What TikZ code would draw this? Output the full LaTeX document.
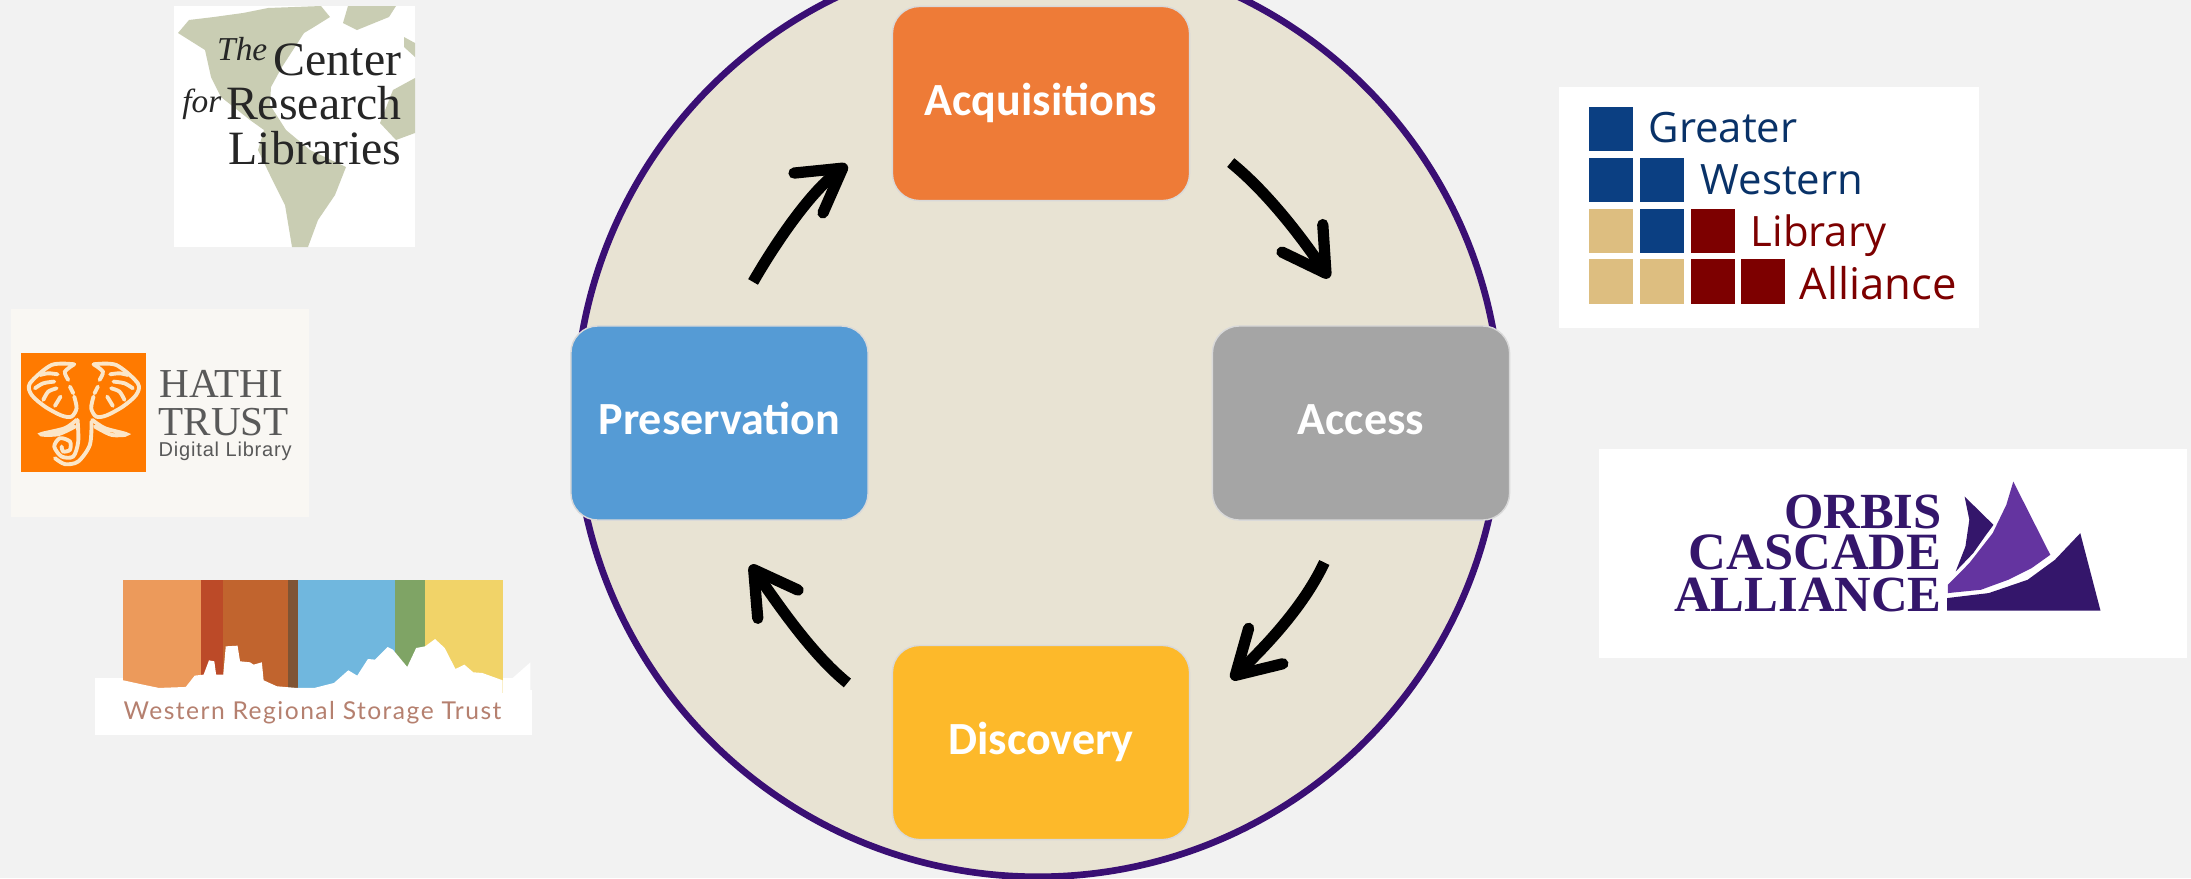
\documentclass[tikz,border=0pt]{standalone}
\usepackage{fontspec}
\usetikzlibrary{arrows.meta}
\newfontfamily\boxfont{Carlito}
\newfontfamily\serifface{Liberation Serif}
\newfontfamily\gwlaface{Open Sans}
\newfontfamily\hathiface[LetterSpace=4]{Liberation Sans}
\newfontfamily\wrstface[LetterSpace=6]{Lato}
\definecolor{pagegrey}{HTML}{F2F2F2}
\definecolor{ringfill}{HTML}{E8E3D3}
\definecolor{ringline}{HTML}{3A0F74}
\definecolor{acqcol}{HTML}{EE7B37}
\definecolor{acccol}{HTML}{A5A5A5}
\definecolor{discol}{HTML}{FDB92A}
\definecolor{precol}{HTML}{559BD5}
\definecolor{mapgreen}{HTML}{C9CDB3}
\definecolor{hathibg}{HTML}{F9F7F3}
\definecolor{hathiorange}{HTML}{FF7A00}
\definecolor{hathicream}{HTML}{FBE6C8}
\definecolor{gwlablue}{HTML}{0B3F82}
\definecolor{gwlatan}{HTML}{DDBE80}
\definecolor{gwlared}{HTML}{7D0000}
\definecolor{orbisdark}{HTML}{34166B}
\definecolor{orbismid}{HTML}{6434A0}
\begin{document}
\begin{tikzpicture}[x=0.01cm, y=-0.01cm]
    % Define styles
    \tikzset{
        cyclebox/.style={
            draw=black!15,
            line width=0.4pt,
            rounded corners=0.27cm,
            minimum width=2.97cm,
            minimum height=1.94cm,
            inner sep=0pt,
            text=white,
            text height=9.7pt,
            text depth=2.9pt,
            font=\boxfont\bfseries\fontsize{13.1}{15}\selectfont
        },
        cyclearrow/.style={
            line width=3.2pt,
            -{Straight Barb[length=12pt,width=14pt,round]}
        },
        logotext/.style={
            inner sep=0pt,
            anchor=base west
        },
        logotextr/.style={
            inner sep=0pt,
            anchor=base east
        },
        gwlasquare/.style={
            inner sep=0pt,
            minimum width=0.44cm,
            minimum height=0.44cm
        },
        tuskline/.style={
            draw=hathicream,
            line width=1.1pt,
            line cap=round
        }
    }

    % Page
    \clip (0,0) rectangle (2191,878);
    \fill[pagegrey] (0,0) rectangle (2191,878);

    % Cycle
    \node[circle, draw=ringline, fill=ringfill, line width=1.9pt, minimum size=9.25cm, inner sep=0pt] (ring) at (1038,414) {};
    \node[cyclebox, fill=acqcol] (acq) at (1041,103.5) {Acquisitions};
    \node[cyclebox, fill=acccol] (acc) at (1361,423) {Access};
    \node[cyclebox, fill=discol] (disc) at (1041,742.5) {Discovery};
    \node[cyclebox, fill=precol] (pres) at (719.5,423) {Preservation};

    % Connect
    \draw[cyclearrow, shorten <=0.52cm, shorten >=0.57cm] (acq.-10) to[out=-39, in=124] (acc.north);
    \draw[cyclearrow, shorten <=0.46cm, shorten >=0.57cm] (acc.-100) to[out=-115, in=44] (disc.9);
    \draw[cyclearrow, shorten <=0.57cm, shorten >=0.54cm] (disc.171) to[out=141, in=-55] (pres.south);
    \draw[cyclearrow, shorten <=0.50cm, shorten >=0.55cm] (pres.85) to[out=60, in=216] (acq.191);

    % Center for Research Libraries
    \fill[white] (174,6) rectangle (415,247);
    \fill[mapgreen] (178,33) -- (189,20) -- (214,17) -- (243,13) -- (268,8) -- (321,6) -- (330,17) -- (314,27) -- (304,33) -- (293,50) -- (282,67) -- (271,87) -- (270,105) -- (286,130) -- (310,150) -- (346,167) -- (335,195) -- (318,220) -- (308,247) -- (292,247) -- (285,205) -- (270,175) -- (258,150) -- (264,130) -- (250,120) -- (221,97) -- (211,77) -- (205,50) -- cycle;
    \fill[mapgreen] (348,6) -- (396,6) -- (389,17) -- (357,30) -- (343,23) -- cycle;
    \fill[mapgreen] (415,78) -- (393,90) -- (380,123) -- (396,140) -- (415,133) -- cycle;
    \fill[mapgreen] (404,37) -- (415,43) -- (415,57) -- (404,47) -- cycle;
    \node[logotextr, text=black!85, font=\serifface\fontsize{13.6}{15}\selectfont] (crlc) at (402,75) {Center};
    \node[logotextr, text=black!85, font=\serifface\itshape\fontsize{9.5}{11}\selectfont] (crlt) at (268,60) {The};
    \node[logotextr, text=black!85, font=\serifface\fontsize{13.6}{15}\selectfont] (crlr) at (402,119) {Research};
    \node[logotextr, text=black!85, font=\serifface\itshape\fontsize{9.5}{11}\selectfont] (crlf) at (222,112) {for};
    \node[logotextr, text=black!85, font=\serifface\fontsize{13.6}{15}\selectfont] (crll) at (402,164) {Libraries};

    % HathiTrust
    \fill[hathibg] (11,309) rectangle (309,517);
    \fill[hathiorange] (21,353) rectangle (146,472);
    \begin{scope}[shift={(15,345)}, x=0.00333cm, y=-0.00333cm]
        \draw[tuskline] plot[smooth] coordinates {(178,58) (110,60) (45,115) (50,150) (90,185) (140,212) (170,215) (185,190) (178,155)};
        \draw[tuskline] plot[smooth] coordinates {(236,58) (304,60) (369,115) (364,150) (324,185) (274,212) (244,215) (229,190) (236,155)};
        \draw[tuskline] plot[smooth] coordinates {(178,58) (150,80) (160,105)};
        \draw[tuskline] plot[smooth] coordinates {(236,58) (264,80) (254,105)};
        \draw[tuskline] (165,125) -- (175,145);
        \draw[tuskline] (249,125) -- (239,145);
        \draw[tuskline] plot[smooth] coordinates {(75,90) (100,85) (128,88)};
        \draw[tuskline] plot[smooth] coordinates {(60,130) (85,115) (118,110)};
        \draw[tuskline] plot[smooth] coordinates {(85,165) (100,140) (125,130)};
        \draw[tuskline] (120,183) -- (137,155);
        \draw[tuskline] plot[smooth] coordinates {(339,90) (314,85) (286,88)};
        \draw[tuskline] plot[smooth] coordinates {(354,130) (329,115) (296,110)};
        \draw[tuskline] plot[smooth] coordinates {(329,165) (314,140) (289,130)};
        \draw[tuskline] (294,183) -- (277,155);
        \draw[tuskline] plot[smooth] coordinates {(185,225) (150,250) (78,268) (130,268) (180,245)};
        \draw[tuskline] plot[smooth] coordinates {(232,225) (270,250) (335,268) (290,270) (240,245)};
        \draw[tuskline] plot[smooth] coordinates {(188,225) (190,290) (175,335) (140,335) (118,305) (135,280) (165,290) (165,315) (145,320) (140,305)};
        \draw[tuskline] plot[smooth] coordinates {(230,230) (225,300) (190,350) (150,358) (120,340)};
    \end{scope}
    \node[logotext, text=black!65, font=\serifface\fontsize{11.7}{13}\selectfont] (hathia) at (159,397) {HATHI};
    \node[logotext, text=black!65, font=\serifface\fontsize{11.7}{13}\selectfont] (hathib) at (158,435) {TRUST};
    \node[logotext, text=black!65, font=\hathiface\fontsize{5.7}{7}\selectfont] (hathic) at (158,456) {Digital Library};

    % Western Regional Storage Trust (coordinates as read at 2.8 by 3)
    \begin{scope}[shift={(0,440)}, x=0.003571cm, y=-0.003333cm]
        \fill[white] (266,715) rectangle (1485,887);
        \fill[white] (1485,750) rectangle (1490,887);
        \fill[white] (1407,722) -- (1430,720) -- (1485,668) -- (1485,760) -- (1407,760) -- cycle;
        \fill[color={rgb,255:red,236;green,154;blue,91}] (345,420) rectangle (563,760);
        \fill[color={rgb,255:red,188;green,74;blue,40}] (563,420) rectangle (623,760);
        \fill[color={rgb,255:red,193;green,100;blue,46}] (623,420) rectangle (805,760);
        \fill[color={rgb,255:red,127;green,84;blue,52}] (805,420) rectangle (833,760);
        \fill[color={rgb,255:red,112;green,183;blue,222}] (833,420) rectangle (1105,760);
        \fill[color={rgb,255:red,127;green,164;blue,101}] (1105,420) rectangle (1190,760);
        \fill[color={rgb,255:red,241;green,211;blue,104}] (1190,420) rectangle (1407,760);
        \fill[white] (345,722) -- (400,735) -- (445,745) -- (520,742) -- (545,708) -- (570,705) -- (585,662) -- (600,665) -- (605,705) -- (625,705) -- (632,620) -- (665,618) -- (672,665) -- (700,668) -- (710,675) -- (733,668) -- (738,722) -- (775,740) -- (830,745) -- (880,745) -- (935,730) -- (975,692) -- (1000,708) -- (1030,658) -- (1050,660) -- (1085,622) -- (1100,630) -- (1140,682) -- (1165,625) -- (1190,620) -- (1218,598) -- (1245,625) -- (1275,688) -- (1300,675) -- (1325,698) -- (1350,700) -- (1407,722) -- (1407,770) -- (345,770) -- cycle;
    \end{scope}
    \node[logotext, text={rgb,255:red,181;green,128;blue,111}, font=\wrstface\fontsize{7}{9}\selectfont] (wrst) at (123,719) {Western Regional Storage Trust};

    % Greater Western Library Alliance
    \fill[white] (1559,87) rectangle (1979,328);
    \foreach \x/\y/\c in {1610.5/128.7/gwlablue, 1610.5/180/gwlablue, 1661.5/180/gwlablue, 1610.5/230.7/gwlatan, 1661.5/230.7/gwlablue, 1712.5/230.7/gwlared, 1610.5/281.5/gwlatan, 1661.5/281.5/gwlatan, 1712.5/281.5/gwlared, 1763/281.5/gwlared}
        \node[gwlasquare, fill=\c] at (\x,\y) {};
    \node[logotext, text=gwlablue!80!black, font=\gwlaface\fontsize{11.9}{14}\selectfont] (gwlaa) at (1648,142.7) {Greater};
    \node[logotext, text=gwlablue!80!black, font=\gwlaface\fontsize{11.9}{14}\selectfont] (gwlab) at (1700,194) {Western};
    \node[logotext, text=gwlared, font=\gwlaface\fontsize{11.9}{14}\selectfont] (gwlac) at (1750,246.7) {Library};
    \node[logotext, text=gwlared, font=\gwlaface\fontsize{12.4}{14}\selectfont] (gwlad) at (1799,299) {Alliance};

    % Orbis Cascade Alliance
    \fill[white] (1598.7,448.7) rectangle (2187,658);
    \node[logotextr, text=orbisdark, font=\serifface\bfseries\fontsize{14.4}{16}\selectfont] (orba) at (1942.4,528) {ORBIS};
    \node[logotextr, text=orbisdark, font=\serifface\bfseries\fontsize{14.9}{16}\selectfont] (orbb) at (1942.4,569) {CASCADE};
    \node[logotextr, text=orbisdark, font=\serifface\bfseries\fontsize{14.4}{16}\selectfont] (orbc) at (1942.4,611) {ALLIANCE};
    \begin{scope}[shift={(1580,430)}, x=0.003897cm, y=-0.003333cm]
        \fill[orbisdark] (988,200) -- (1062,285) -- (1040,320) -- (1010,370) -- (965,425) -- (990,350) -- (1000,270) -- cycle;
        \fill[orbismid] (1113,155) -- (1208,375) -- (1160,415) -- (1100,450) -- (1030,480) -- (945,490) -- (945,465) -- (1000,400) -- (1060,310) -- (1095,225) -- cycle;
        \fill[orbisdark] (1285,310) -- (1337,543) -- (943,543) -- (943,505) -- (1050,490) -- (1150,450) -- (1220,390) -- cycle;
    \end{scope}
\end{tikzpicture}
\end{document}
